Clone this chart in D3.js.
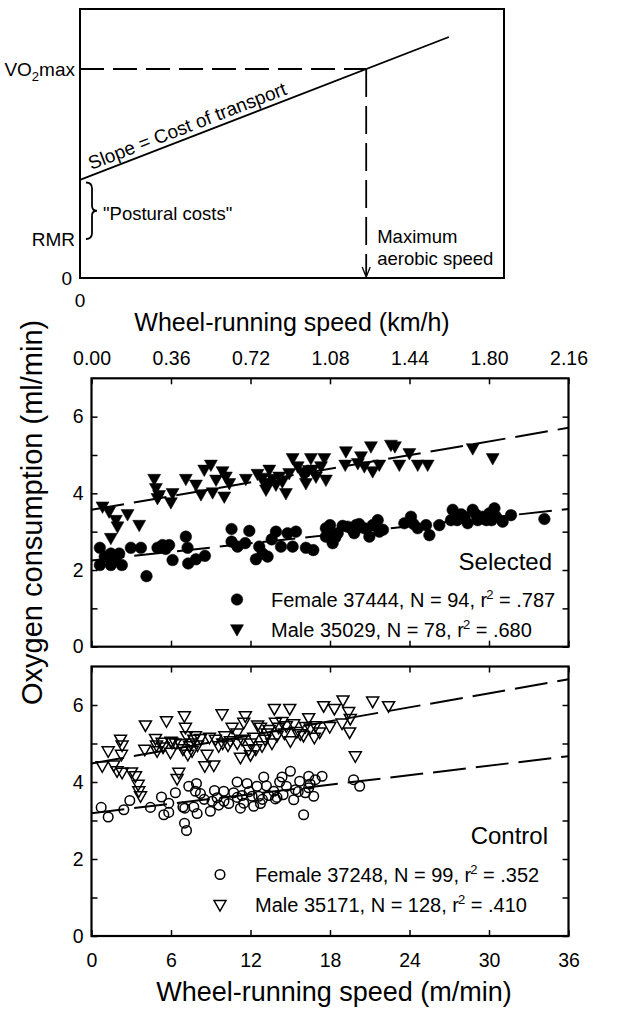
<!DOCTYPE html>
<html><head><meta charset="utf-8">
<script src="https://cdn.jsdelivr.net/npm/d3@7"></script>
<style>
body{margin:0;background:#fff}
svg{display:block}
text{font-family:"Liberation Sans",Arial,Helvetica,sans-serif;fill:#000}
</style>
</head><body>
<svg id="c" width="628" height="1009"></svg>
<script>
// ---------------- DATA ----------------
// x in m/min, y in ml O2/min
const selFemale = [[0.63,2.58],[0.63,2.13],[1.46,2.13],[1.46,2.43],[2.09,2.43],[2.29,2.13],[2.97,2.58],[3.73,2.58],[4.15,1.84],[4.98,2.58],[5.36,2.65],[5.86,2.65],[6.12,2.26],[7.12,2.87],[7.25,2.58],[7.30,2.17],[7.88,2.28],[8.56,2.37],[10.57,3.07],[10.57,2.74],[11.02,2.61],[11.91,3.02],[12.41,2.28],[12.66,2.61],[12.91,2.43],[13.29,2.35],[13.92,3.00],[14.30,2.61],[14.80,2.96],[15.18,2.61],[15.43,3.00],[16.18,2.58],[16.74,2.52],[17.69,2.87],[17.69,3.09],[18.00,3.17],[18.20,2.70],[18.58,2.96],[18.95,3.15],[19.33,3.13],[19.83,2.96],[19.96,3.17],[20.59,3.09],[20.97,2.87],[21.22,3.17],[21.60,3.30],[21.72,3.00],[23.61,3.22],[24.11,3.39],[24.62,3.09],[25.25,3.17],[25.50,2.91],[26.25,3.17],[27.26,3.57],[27.13,3.30],[28.14,3.39],[28.39,3.22],[28.77,3.57],[29.15,3.30],[29.52,3.39],[30.03,3.48],[30.41,3.61],[30.53,3.39],[31.03,3.26],[31.66,3.43],[34.18,3.33],
  [1.0,2.35],[1.8,2.25],[5.6,2.55],[11.6,2.7],[13.6,2.8],[17.95,2.96],[18.4,2.85],[19.7,3.05],[20.2,3.2],[22.0,3.05],[24.3,3.2],[27.6,3.30],[27.9,3.45],[29.0,3.45],[29.8,3.30],[30.2,3.30]];
const selMale = [[0.83,3.65],[1.33,3.52],[1.84,3.30],[1.96,3.13],[2.72,3.45],[1.46,2.83],[3.60,3.17],[4.73,4.37],[4.86,4.13],[4.98,3.87],[6.12,4.00],[5.99,3.76],[7.12,4.37],[7.88,4.22],[8.26,3.97],[8.51,4.61],[9.01,4.74],[9.14,4.02],[9.89,4.57],[10.14,4.43],[10.02,3.91],[10.40,4.26],[11.65,4.37],[12.53,4.50],[13.04,4.26],[13.17,4.09],[13.42,4.61],[13.67,4.37],[13.92,4.22],[14.17,4.43],[14.67,4.00],[14.92,4.52],[15.18,4.91],[15.56,4.70],[16.06,4.43],[16.18,4.26],[16.56,4.91],[16.69,4.61],[16.94,4.43],[17.32,4.70],[17.57,4.91],[17.69,4.35],[19.20,5.09],[19.15,4.74],[20.34,4.96],[20.59,4.70],[21.22,4.57],[21.09,5.22],[21.72,4.74],[22.60,5.26],[22.90,5.22],[23.23,4.74],[23.99,5.04],[24.62,4.74],[25.37,4.74],[28.77,5.17],[30.28,4.91],
  [5.1,3.95],[9.4,4.35],[12.9,4.4],[14.4,4.3],[15.9,4.55],[16.4,4.6],[20.1,4.78],[13.3,4.2]];
const ctlFemale = [[0.73,3.34],[1.26,3.09],[2.44,3.28],[2.89,3.52],[4.45,3.34],[5.28,3.61],[5.46,3.15],[5.83,3.45],[5.83,3.21],[6.33,3.72],[7.02,2.93],[7.17,2.74],[7.04,3.32],[7.34,3.89],[7.72,3.35],[7.92,3.96],[7.97,3.18],[7.84,3.76],[8.22,3.70],[8.97,3.24],[9.10,3.50],[9.28,3.78],[9.48,3.59],[9.98,3.76],[10.36,3.44],[10.73,3.72],[10.99,4.00],[11.24,3.32],[11.36,3.65],[11.49,3.45],[11.74,3.96],[12.12,3.63],[12.24,3.37],[12.49,3.89],[12.62,3.63],[12.75,3.44],[13.00,4.13],[13.37,3.65],[13.75,3.76],[13.88,3.56],[14.38,4.13],[14.46,3.67],[14.71,3.89],[15.01,4.28],[15.26,3.54],[15.39,3.80],[15.71,4.02],[16.01,3.15],[16.14,3.72],[16.39,3.85],[16.39,4.15],[16.77,3.63],[16.89,4.06],[17.40,4.15],[19.78,4.06],[20.24,3.89],
  [8.5,3.55],[9.6,3.4],[10.0,3.5],[11.0,3.6],[11.9,3.75],[12.9,3.55],[13.2,3.9],[14.0,3.6],[14.2,4.0],[15.6,3.75],[16.5,3.95],[6.9,3.35]];
const ctlMale = [[0.81,4.41],[1.26,4.80],[1.68,4.43],[1.93,4.28],[2.19,5.10],[2.31,4.95],[2.26,4.71],[2.31,4.24],[3.02,4.25],[3.32,4.15],[3.52,3.93],[3.57,3.76],[3.70,3.63],[4.02,4.84],[4.07,5.47],[4.83,5.12],[4.95,4.80],[5.33,5.02],[5.66,5.58],[5.96,4.76],[6.08,5.02],[6.33,5.00],[6.59,4.24],[6.46,4.08],[6.71,4.98],[7.01,5.71],[7.09,5.41],[7.17,5.19],[7.27,4.71],[7.42,4.93],[7.59,4.80],[7.72,5.10],[7.84,5.19],[8.22,5.12],[8.55,4.41],[8.72,4.71],[9.23,4.43],[9.35,5.10],[9.60,4.93],[9.85,5.76],[10.06,5.19],[10.48,5.06],[10.61,5.41],[10.99,5.26],[11.24,4.63],[11.36,5.10],[11.49,5.54],[11.61,5.71],[11.87,4.84],[12.24,5.15],[12.54,5.47],[12.75,5.41],[12.87,4.93],[13.25,5.26],[13.62,5.00],[13.80,5.90],[13.88,5.54],[14.13,5.41],[14.38,5.56],[14.56,5.26],[14.96,5.90],[15.01,5.06],[15.26,5.50],[15.76,5.24],[16.14,5.43],[16.39,5.66],[16.52,5.39],[16.82,5.15],[17.22,5.29],[17.52,5.97],[17.98,5.43],[18.33,5.90],[18.98,6.12],[18.91,5.52],[19.41,5.82],[19.53,5.64],[19.48,5.29],[19.91,4.67],[21.22,6.09],[22.42,5.97],
  [4.9,4.95],[5.4,4.9],[6.0,5.05],[6.9,4.85],[7.5,5.0],[8.0,4.95],[8.9,5.15],[9.9,5.0],[10.3,4.95],[11.0,5.0],[12.0,5.0],[12.4,4.85],[13.1,5.1],[13.4,5.35],[14.0,5.2],[14.7,5.45],[15.5,5.3],[16.0,5.2],[16.9,5.45],[12.0,4.7]];
// fitted lines: value at x = 0 and x = 36 m/min
const fitX = [0, 36];
const selFemaleFit = [2.25, 3.59];
const selMaleFit = [3.57, 5.71];
const ctlFemaleFit = [3.19, 4.67];
const ctlMaleFit = [4.48, 6.67];
// axis ticks
const mminTicks = [0, 6, 12, 18, 24, 30, 36];
const kmhTicks = [0, 0.36, 0.72, 1.08, 1.44, 1.80, 2.16];
const yTicks = [0, 1, 2, 3, 4, 5, 6];
// legends
const selLegend = [["Female 37444, N = 94, r", ".787"], ["Male 35029, N = 78, r", ".680"]];
const ctlLegend = [["Female 37248, N = 99, r", ".352"], ["Male 35171, N = 128, r", ".410"]];
// schematic (arbitrary units 0..10)
const costLineX = [0, 8.7];
const costLineY = [3.65, 8.96];
const vo2maxLevel = 7.77;
const maxAerobicSpeed = 6.75;
const rmrLevel = 1.45;
const braceTop = 3.55;

// ---------------- DRAW ----------------
const svg = d3.select("#c");
const FS = 19.5;
const line = d3.line();

// ---- schematic panel ----
(function(){
  const sx = d3.scaleLinear([0,10],[80,504]);
  const sy = d3.scaleLinear([0,10],[278,9]);
  const g = svg.append("g");
  g.append("rect").attr("x",80).attr("y",9).attr("width",424).attr("height",269)
    .attr("fill","none").attr("stroke","#000").attr("stroke-width",2);
  g.append("path").attr("d", line([[sx(costLineX[0]),sy(costLineY[0])],[sx(costLineX[1]),sy(costLineY[1])]]))
    .attr("stroke","#000").attr("stroke-width",1.8).attr("fill","none");
  g.append("path").attr("d", line([[sx(0),sy(vo2maxLevel)],[sx(maxAerobicSpeed),sy(vo2maxLevel)]]))
    .attr("stroke","#000").attr("stroke-width",1.8).attr("stroke-dasharray","24,9");
  g.append("path").attr("d", line([[sx(maxAerobicSpeed),sy(vo2maxLevel)],[sx(maxAerobicSpeed),sy(0)-2]]))
    .attr("stroke","#000").attr("stroke-width",1.8).attr("stroke-dasharray","28,9");
  const ax = sx(maxAerobicSpeed), ay = sy(0);
  g.append("path").attr("d", line([[ax-4,ay-11],[ax,ay-1],[ax+4,ay-11]]))
    .attr("stroke","#000").attr("stroke-width",1.3).attr("fill","none");
  const bt = sy(braceTop), bb = sy(rmrLevel), bm = (bt+bb)/2, bx = 86;
  g.append("path").attr("d",
    `M${bx},${bt} Q${bx+6},${bt} ${bx+6},${bt+6} L${bx+6},${bm-5} Q${bx+6},${bm} ${bx+11},${bm} Q${bx+6},${bm} ${bx+6},${bm+5} L${bx+6},${bb-6} Q${bx+6},${bb} ${bx},${bb}`)
    .attr("stroke","#000").attr("stroke-width",1.8).attr("fill","none");
  const vo = g.append("text").attr("x",75).attr("y",sy(vo2maxLevel)).attr("dy","0.36em")
    .attr("text-anchor","end").attr("font-size",19);
  vo.append("tspan").text("VO");
  vo.append("tspan").attr("font-size",13).attr("dy",5).text("2");
  vo.append("tspan").attr("dy",-5).text("max");
  g.append("text").attr("x",75).attr("y",sy(rmrLevel)).attr("dy","0.36em").attr("text-anchor","end")
    .attr("font-size",19).text("RMR");
  g.append("text").attr("x",72).attr("y",sy(0)).attr("dy","0.36em").attr("text-anchor","end")
    .attr("font-size",19).text("0");
  g.append("text").attr("x",sx(0)).attr("y",307).attr("text-anchor","middle")
    .attr("font-size",19).text("0");
  g.append("text").attr("x",103).attr("y",220).attr("font-size",18.5).text("\"Postural costs\"");
  g.append("text").attr("x",ax+11).attr("y",243).attr("font-size",18.5).text("Maximum");
  g.append("text").attr("x",ax+11).attr("y",265).attr("font-size",18.5).text("aerobic speed");
  const ang = Math.atan2(sy(costLineY[1])-sy(costLineY[0]), sx(costLineX[1])-sx(costLineX[0]))*180/Math.PI;
  const t0 = 0.31, px = sx(t0), py = sy(costLineY[0] + (costLineY[1]-costLineY[0])*t0/costLineX[1]);
  g.append("text").attr("transform",`translate(${px},${py}) rotate(${ang}) translate(0,-5)`)
    .attr("font-size",19).text("Slope = Cost of transport");
  g.append("text").attr("x",292).attr("y",331).attr("text-anchor","middle").attr("font-size",25)
    .text("Wheel-running speed (km/h)");
})();

// ---- data panels ----
const x = d3.scaleLinear([0,36],[91.5,568.5]);
const xk = d3.scaleLinear([0,2.16],[91.5,568.5]);

function triPath(w,h){ return `M${-w/2},${-h*0.42}L${w/2},${-h*0.42}L0,${h*0.58}Z`; }

function panel(opt){
  const y = d3.scaleLinear([0,7],[opt.bottom, opt.top]);
  const g = svg.append("g");
  const clipId = "clip"+opt.id;
  g.append("clipPath").attr("id",clipId).append("rect")
    .attr("x",x(0)).attr("y",opt.top).attr("width",x(36)-x(0)).attr("height",opt.bottom-opt.top);
  const fmtY = d => d%2===0 ? d : "";
  const yl = g.append("g").attr("transform",`translate(${x(0)},0)`)
    .call(d3.axisLeft(y).tickValues(yTicks).tickFormat(fmtY).tickSizeInner(-6).tickSizeOuter(0).tickPadding(8));
  const yr = g.append("g").attr("transform",`translate(${x(36)},0)`)
    .call(d3.axisRight(y).tickValues(yTicks).tickFormat("").tickSizeInner(-6).tickSizeOuter(0));
  const xb = g.append("g").attr("transform",`translate(0,${opt.bottom})`)
    .call(d3.axisBottom(x).tickValues(mminTicks).tickFormat(opt.bottomLabels ? d3.format("d") : "")
      .tickSizeInner(-6).tickSizeOuter(0).tickPadding(17));
  let xt;
  if (opt.topLabels) {
    xt = g.append("g").attr("transform",`translate(0,${opt.top})`)
      .call(d3.axisTop(xk).tickValues(kmhTicks).tickFormat(d3.format(".2f")).tickSizeInner(-6).tickSizeOuter(0).tickPadding(13));
  } else {
    xt = g.append("g").attr("transform",`translate(0,${opt.top})`)
      .call(d3.axisTop(x).tickValues(mminTicks).tickFormat("").tickSizeInner(-6).tickSizeOuter(0));
  }
  [yl,yr,xb,xt].forEach(a=>{
    a.select(".domain").remove();
    a.selectAll(".tick line").attr("stroke","#000").attr("stroke-width",1.5);
    a.selectAll("text").attr("font-size",FS).attr("font-family",'"Liberation Sans",Arial,sans-serif').attr("fill","#000");
  });
  g.append("rect").attr("x",x(0)).attr("y",opt.top).attr("width",x(36)-x(0)).attr("height",opt.bottom-opt.top)
    .attr("fill","none").attr("stroke","#000").attr("stroke-width",2.2);
  const lg = g.append("g").attr("clip-path",`url(#${clipId})`);
  [opt.femFit, opt.maleFit].forEach(f=>{
    lg.append("path").attr("d", line(fitX.map((xv,i)=>[x(xv), y(f[i])])))
      .attr("stroke","#000").attr("stroke-width",2).attr("stroke-dasharray","33,10").attr("fill","none");
  });
  const filled = opt.filled;
  const tri = filled ? triPath(13,11.5) : triPath(12,10.5);
  const cr = filled ? 5.8 : 4.8;
  const sw = filled ? 0.5 : 1.5;
  g.append("g").selectAll("path").data(opt.male).join("path")
    .attr("d",tri).attr("transform",d=>`translate(${x(d[0])},${y(d[1])})`)
    .attr("fill",filled?"#000":"none").attr("stroke","#000").attr("stroke-width",sw);
  g.append("g").selectAll("circle").data(opt.fem).join("circle")
    .attr("cx",d=>x(d[0])).attr("cy",d=>y(d[1])).attr("r",cr)
    .attr("fill",filled?"#000":"none").attr("stroke","#000").attr("stroke-width",sw);
  g.append("text").attr("x",opt.labelX).attr("y",opt.labelY).attr("text-anchor","end")
    .attr("font-size",24).text(opt.label);
  opt.legend.forEach((L,i)=>{
    const ly = opt.legY + i*opt.legDy;
    if (i===0) g.append("circle").attr("cx",opt.legMX).attr("cy",ly-7.5).attr("r",cr)
      .attr("fill",filled?"#000":"none").attr("stroke","#000").attr("stroke-width",sw);
    else g.append("path").attr("d",tri).attr("transform",`translate(${opt.legMX},${ly-7})`)
      .attr("fill",filled?"#000":"none").attr("stroke","#000").attr("stroke-width",sw);
    const t = g.append("text").attr("x",opt.legTX).attr("y",ly).attr("font-size",20);
    t.append("tspan").text(L[0]);
    t.append("tspan").attr("font-size",13).attr("dy",-8).attr("dx",-1).text("2");
    t.append("tspan").attr("dy",8).text(" = " + L[1]);
  });
}

panel({id:"sel", top:378.3, bottom:646.7, fem:selFemale, male:selMale, femFit:selFemaleFit, maleFit:selMaleFit,
  filled:true, label:"Selected", labelX:552, labelY:570, legend:selLegend, legY:607, legDy:29.5, legMX:237, legTX:271,
  topLabels:true, bottomLabels:false});
panel({id:"ctl", top:666.5, bottom:936, fem:ctlFemale, male:ctlMale, femFit:ctlFemaleFit, maleFit:ctlMaleFit,
  filled:false, label:"Control", labelX:548, labelY:844, legend:ctlLegend, legY:882, legDy:30, legMX:220, legTX:255,
  topLabels:false, bottomLabels:true});

svg.append("text").attr("x",334).attr("y",1001).attr("text-anchor","middle").attr("font-size",27)
  .text("Wheel-running speed (m/min)");
svg.append("text").attr("transform","translate(42,705) rotate(-90)").attr("text-anchor","start").attr("font-size",29)
  .text("Oxygen consumption (ml/min)");
</script>
</body></html>
